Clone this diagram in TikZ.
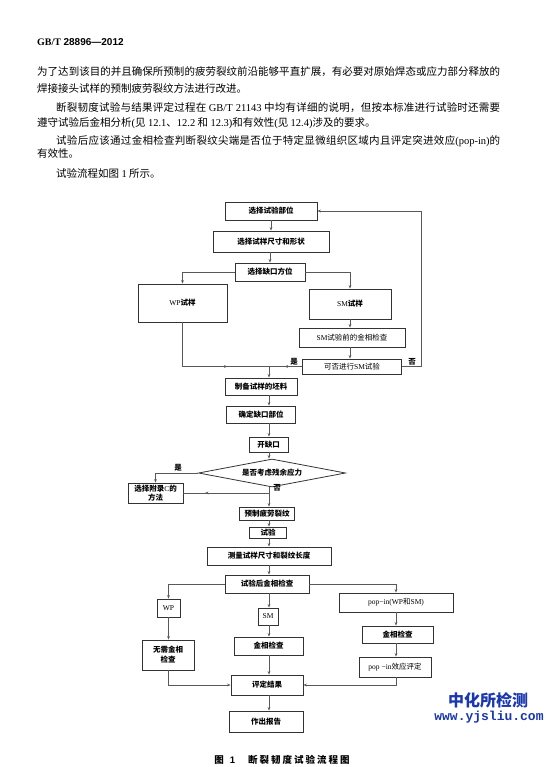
\documentclass[tikz,border=0pt]{standalone}
\usepackage{fontspec}
\setmainfont{Liberation Serif}
\newfontfamily\cjk{Noto Sans CJK SC}
\newfontfamily\sansf{Liberation Sans}
\newfontfamily\monof{Liberation Mono}
\usetikzlibrary{shapes.geometric,arrows.meta,decorations.markings}
\newcount\hancc
\hancc="4E00
\loop \XeTeXcharclass\hancc=1 \advance\hancc by 1 \ifnum\hancc<"A000 \repeat
\XeTeXcharclass"FF0C=3
\XeTeXcharclass"3001=3
\XeTeXcharclass"3002=3
\XeTeXinterchartokenstate=1
\XeTeXinterchartoks 1 1 = {\hskip 0pt plus 1pt}
\XeTeXinterchartoks 1 3 = {\hskip 0pt plus 1pt}
\XeTeXinterchartoks 3 1 = {\hskip 0pt plus 1pt}
\definecolor{boxcol}{gray}{0.2}
\definecolor{lncol}{gray}{0.35}
\definecolor{wmblue}{RGB}{25,55,175}
\newcommand\lt[1]{{\rmfamily\mdseries #1}}
\begin{document}
\begin{tikzpicture}[x=1pt,y=-1pt,
  box/.style={draw=boxcol,line width=0.9pt,fill=white,inner sep=0pt,align=center,font=\cjk\bfseries\fontsize{7.5}{9.5}\selectfont},
  lbox/.style={box,font=\cjk\fontsize{7.5}{9.5}\selectfont},
  conn/.style={draw=lncol,line width=0.6pt},
  arr/.style={conn,-{Stealth[length=3.5pt,width=2.8pt]}},
  midarr/.style={postaction={decorate,decoration={markings,mark=at position #1 with {\arrow{Stealth[length=3.5pt,width=2.8pt]}}}}},
  lab/.style={font=\cjk\bfseries\fontsize{7.5}{9}\selectfont,inner sep=0pt},
  bodyline/.style={anchor=west,inner sep=0pt,font=\cjk\fontsize{10.5}{12}\selectfont}
]
\useasboundingbox (0,0) rectangle (551,767);
\fill[white] (0,0) rectangle (551,767);

% header and body text
\node[anchor=west,inner sep=0pt] (hdr) at (37,42) {\fontsize{10}{12}\selectfont\bfseries GB/T {\sansf 28896—2012}};
\node[bodyline] (l1) at (37,72) {\hbox to 463pt{为了达到该目的并且确保所预制的疲劳裂纹前沿能够平直扩展，有必要对原始焊态或应力部分释放的}};
\node[bodyline] (l2) at (37,89) {焊接接头试样的预制疲劳裂纹方法进行改进。};
\node[bodyline] (l3) at (56,108) {\hbox to 444pt{断裂韧度试验与结果评定过程在 \lt{GB/T 21143} 中均有详细的说明，但按本标准进行试验时还需要}};
\node[bodyline] (l4) at (37,123) {遵守试验后金相分析\lt{(}见 \lt{12.1}、\lt{12.2} 和 \lt{12.3}\lt{)}和有效性\lt{(}见 \lt{12.4}\lt{)}涉及的要求。};
\node[bodyline] (l5) at (56,141) {\hbox to 444pt{试验后应该通过金相检查判断裂纹尖端是否位于特定显微组织区域内且评定突进效应\lt{(pop-in)}的}};
\node[bodyline] (l6) at (37,154) {有效性。};
\node[bodyline] (l7) at (56,173) {试验流程如图 \lt{1} 所示。};

% flowchart boxes
\coordinate (cx) at (269,0);
\node[box,minimum width=92pt,minimum height=18pt] (b1) at (271,211) {选择试验部位};
\node[box,minimum width=116pt,minimum height=21pt] (b2) at (271,241.5) {选择试样尺寸和形状};
\node[box,minimum width=70pt,minimum height=18pt] (b3) at (270,272) {选择缺口方位};
\node[box,minimum width=89pt,minimum height=38pt] (wp1) at (182.5,303) {\lt{WP}试样};
\node[box,minimum width=82pt,minimum height=30pt] (sm1) at (350,304) {\lt{SM}试样};
\node[lbox,minimum width=106pt,minimum height=19pt] (smc) at (352,337.5) {\lt{SM}试验前的金相检查};
\node[lbox,minimum width=99pt,minimum height=15pt] (q) at (352,366.5) {可否进行\lt{SM}试验};
\node[box,minimum width=72pt,minimum height=17pt] (blank) at (261,386.5) {制备试样的坯料};
\node[box,minimum width=69pt,minimum height=17pt] (notch) at (261,414.5) {确定缺口部位};
\node[box,minimum width=39pt,minimum height=15pt] (open) at (268.5,444.5) {开缺口};
\node[draw=boxcol,line width=0.8pt,fill=white,diamond,aspect=5.25,minimum width=147pt,minimum height=28pt,inner sep=0pt,font=\cjk\bfseries\fontsize{7.5}{9}\selectfont] (dia) at (272,473) {是否考虑残余应力};
\node[box,minimum width=55pt,minimum height=20pt,font=\cjk\bfseries\fontsize{7.5}{8.5}\selectfont] (appc) at (155.5,493) {选择附录\lt{C}的\\方法};
\node[box,minimum width=55pt,minimum height=13pt] (crack) at (267,513.5) {预制疲劳裂纹};
\node[box,minimum width=37pt,minimum height=11pt] (test) at (268,532.5) {试验};
\node[box,minimum width=124pt,minimum height=18pt] (meas) at (269,556) {测量试样尺寸和裂纹长度};
\node[box,minimum width=84pt,minimum height=18pt] (post) at (267,584) {试验后金相检查};
\node[box,minimum width=23pt,minimum height=18pt] (wp2) at (168.5,608) {\lt{WP}};
\node[box,minimum width=20pt,minimum height=17pt] (sm2) at (268,616.5) {\lt{SM}};
\node[lbox,minimum width=114pt,minimum height=19pt] (pop) at (396,602.5) {\lt{pop−in(WP}和\lt{SM)}};
\node[box,minimum width=52pt,minimum height=30pt,font=\cjk\bfseries\fontsize{7.5}{10}\selectfont] (nomet) at (168,655) {无需金相\\检查};
\node[box,minimum width=69pt,minimum height=18pt] (met) at (268.5,646) {金相检查};
\node[box,minimum width=71pt,minimum height=17pt] (met2) at (397.5,634.5) {金相检查};
\node[lbox,minimum width=72pt,minimum height=20pt] (popev) at (395,667) {\lt{pop −in}效应评定};
\node[box,minimum width=72pt,minimum height=20pt] (eval) at (267,685) {评定结果};
\node[box,minimum width=74pt,minimum height=21pt] (rep) at (266,721.5) {作出报告};

% connectors
\draw[arr] (b1.south) -- (b2.north);
\draw[arr] (b2.south -| b3.north) -- (b3.north);
\draw[arr] (b3.west) -| (wp1.north);
\draw[arr] (b3.east) -| (sm1.north);
\draw[arr] (sm1.south) -- (sm1.south |- smc.north);
\draw[arr] (smc.south -| sm1.south) -- (sm1.south |- q.north);
\draw[arr] (q.east) -- ++(19,0) |- (b1.east);
\node[lab] (no1) at (412,362) {否};
\coordinate (jn) at (q.west -| cx);
\draw[conn,midarr=89pt] (wp1.south) |- (jn);
\draw[conn,midarr=17.5pt] (q.west) -- (jn);
\node[lab] (yes1) at (294,362) {是};
\draw[arr] (jn) -- (jn |- blank.north);
\draw[arr] (blank.south -| cx) -- (notch.north -| cx);
\draw[arr] (notch.south -| cx) -- (open.north -| cx);
\draw[arr] (open.south -| cx) -- (dia.north -| cx);
\draw[arr] (dia.west) -| (appc.north);
\node[lab] (yes2) at (178,468) {是};
\draw[conn,midarr=64pt] (appc.east -| cx) -- (appc.east);
\draw[arr] (dia.south -| cx) -- (crack.north -| cx);
\node[lab] (no2) at (277,488) {否};
\draw[arr] (crack.south -| cx) -- (test.north -| cx);
\draw[arr] (test.south -| cx) -- (meas.north -| cx);
\draw[arr] (meas.south -| cx) -- (post.north -| cx);
\draw[arr] (post.west) -| (wp2.north);
\draw[arr] (post.south -| cx) -- (sm2.north -| cx);
\draw[arr] (post.east) -| (pop.north);
\draw[arr] (wp2.south) -- (wp2.south |- nomet.north);
\draw[arr] (sm2.south -| cx) -- (met.north -| cx);
\draw[arr] (pop.south) -- (pop.south |- met2.north);
\draw[arr] (met2.south -| pop.south) -- (pop.south |- popev.north);
\draw[arr] (nomet.south) |- (eval.west);
\draw[arr] (popev.south -| pop.south) |- (eval.east);
\draw[arr] (met.south -| cx) -- (eval.north -| cx);
\draw[arr] (eval.south -| cx) -- (rep.north -| cx);

% caption
\node[inner sep=0pt] (cap) at (282,760) {\cjk\bfseries\fontsize{9.5}{11}\selectfont 图\hspace{6pt}{\sansf 1}\hspace{13pt}断\kern2pt 裂\kern2pt 韧\kern2pt 度\kern2pt 试\kern2pt 验\kern2pt 流\kern2pt 程\kern2pt 图};

% watermark
\node[inner sep=0pt,text=wmblue] (wm1) at (488,700) {\cjk\bfseries\fontsize{16}{18}\selectfont 中化所检测};
\node[inner sep=0pt,text=wmblue] (wm2) at (489,717) {\monof\bfseries\fontsize{13}{14}\selectfont www.yjsliu.com};
\end{tikzpicture}
\end{document}
